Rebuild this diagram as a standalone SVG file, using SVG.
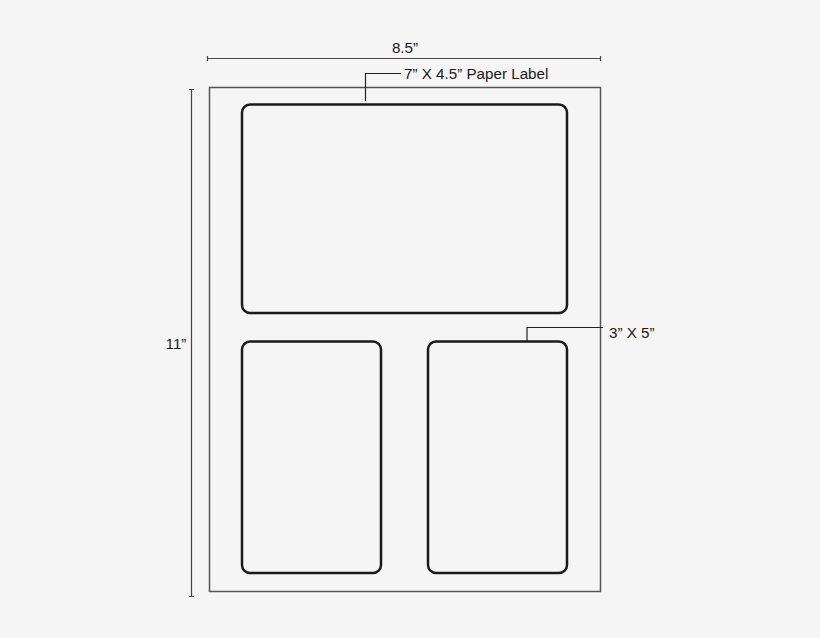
<svg xmlns="http://www.w3.org/2000/svg" width="820" height="638" viewBox="0 0 820 638">
<style>
.dim{stroke:#444;stroke-width:1.2;fill:none}
.sheet{stroke:#555;stroke-width:1.5;fill:none}
.lbl{stroke:#1a1a1a;stroke-width:2.5;fill:none}
.lead{stroke:#222;stroke-width:1.2;fill:none}
text{font-family:"Liberation Sans",Arial,sans-serif;font-size:15.2px;fill:#1a1a1a}
</style>
<rect width="820" height="638" fill="#f5f5f5"/>
<g id="sheet"><rect class="sheet" x="209.5" y="87.5" width="391" height="504"/></g>
<g id="label-large"><rect class="lbl" x="242" y="104.5" width="325" height="208.5" rx="8"/></g>
<g id="label-small-left"><rect class="lbl" x="242" y="341.5" width="139" height="231.5" rx="8"/></g>
<g id="label-small-right"><rect class="lbl" x="428" y="341.5" width="139" height="231.5" rx="8"/></g>
<g id="dim-width">
<path class="dim" d="M207 58.5H601M207.5 56V61M600.5 56V61"/>
<text x="405" y="53" text-anchor="middle">8.5”</text>
</g>
<g id="dim-height">
<path class="dim" d="M191.5 89V597M189 89.5H194M189 596.5H194"/>
<text x="176" y="349" text-anchor="middle">11”</text>
</g>
<g id="connectors">
<path class="lead" d="M365.5 101V73.5H401"/>
<path class="lead" d="M527 341V327.5H603"/>
</g>
<g id="callouts">
<text x="404" y="79">7” X 4.5” Paper Label</text>
<text x="609" y="338">3” X 5”</text>
</g>
</svg>
